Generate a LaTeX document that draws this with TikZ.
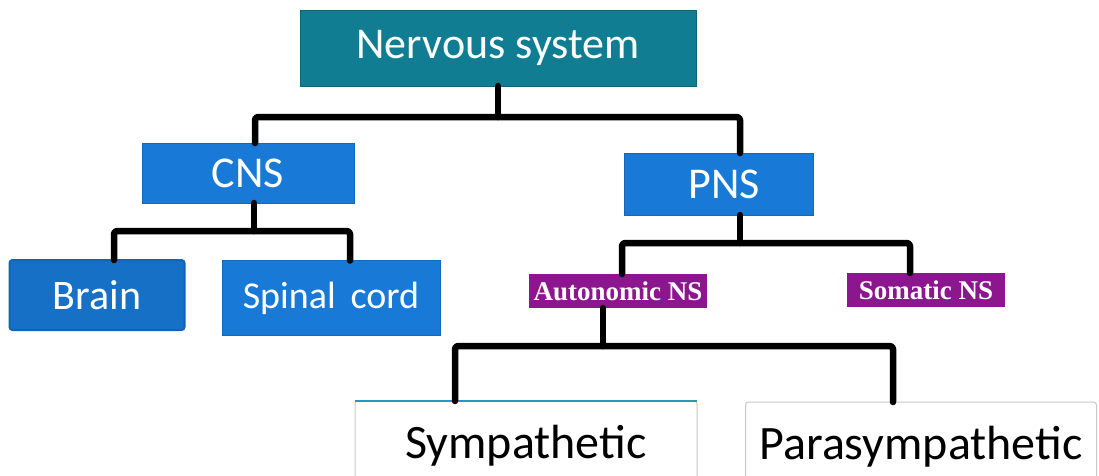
\documentclass[tikz,border=0pt]{standalone}
\usepackage{fontspec}
\setmainfont{Carlito}
\newfontfamily\serifbold{Liberation Serif}
\definecolor{tealc}{RGB}{16,125,146}
\definecolor{bluec}{RGB}{24,122,214}
\definecolor{bluedark}{RGB}{18,100,180}
\definecolor{purp}{RGB}{140,22,142}
\definecolor{lightgray}{RGB}{200,200,200}
\definecolor{tealline}{RGB}{40,150,190}
\begin{document}
\begin{tikzpicture}[x=1pt,y=-1pt,
  basebox/.style={inner sep=0pt, outer sep=0pt},
  tealbox/.style={basebox, fill=tealc, draw=tealc!80!black, line width=0.8pt, text=white, font=\fontsize{44}{48}\selectfont},
  bluebox/.style={basebox, fill=bluec, draw=bluec!85!black, line width=0.8pt, text=white, font=\fontsize{44}{48}\selectfont},
  purpbox/.style={basebox, fill=purp, text=white, font=\serifbold\bfseries\fontsize{27}{29}\selectfont},
  whitebox/.style={basebox, fill=white, draw=lightgray, line width=1pt, rounded corners=3pt, text=black, font=\fontsize{48}{52}\selectfont},
  link/.style={line width=6.5pt, line cap=round, line join=round, rounded corners=3pt, draw=black}]
\useasboundingbox (0,0) rectangle (1099,475);
\fill[white] (0,0) rectangle (1099,475);

% nodes
\node[tealbox, minimum width=396pt, minimum height=76pt] (ns) at (498,48) {Nervous system};
\node[bluebox, minimum width=212pt, minimum height=60pt] (cns) at (248,173) {CNS};
\node[bluebox, minimum width=189pt, minimum height=62pt] (pns) at (719,184) {\hspace*{10pt}PNS};
\node[bluebox, fill=bluec!92!black, draw=bluedark, line width=2pt, rounded corners=3pt, minimum width=175pt, minimum height=70pt, font=\fontsize{42}{46}\selectfont] (brain) at (97,295) {Brain};
\node[bluebox, minimum width=218pt, minimum height=75pt, font=\fontsize{38}{42}\selectfont] (spinal) at (331,298) {Spinal\, cord};
\node[purpbox, minimum width=178pt, minimum height=34pt] (auto) at (618,291) {Autonomic NS};
\node[purpbox, minimum width=158pt, minimum height=34pt] (soma) at (926,290) {Somatic NS};
\node[whitebox, minimum width=342pt, minimum height=82pt, text depth=0pt] (symp) at (526,442) {Sympathetic};
\draw[tealline, line width=2pt] (symp.north west) -- (symp.north east);
\node[whitebox, minimum width=351pt, minimum height=82pt, text depth=0pt] (para) at (921,443) {Parasympathetic};

% connectors
\coordinate (cnsin) at ([xshift=7pt]cns.north);
\coordinate (pnsin) at ([xshift=21pt]pns.north);
\draw[link] (ns.south) -- (ns.south |- 0,117);
\draw[link] (cnsin) -- (cnsin |- 0,117) -- (pnsin |- 0,117) -- (pnsin);

\coordinate (cnsout) at ([xshift=6pt]cns.south);
\coordinate (brainin) at ([xshift=17pt]brain.north);
\coordinate (spinin) at ([xshift=19pt]spinal.north);
\draw[link] (cnsout) -- (cnsout |- 0,231);
\draw[link] (brainin) -- (brainin |- 0,231) -- (spinin |- 0,231) -- (spinin);

\coordinate (pnsout) at ([xshift=21pt]pns.south);
\coordinate (autoin) at ([xshift=4pt]auto.north);
\coordinate (somain) at ([xshift=-16pt]soma.north);
\draw[link] (pnsout) -- (pnsout |- 0,243);
\draw[link] (autoin) -- (autoin |- 0,243) -- (somain |- 0,243) -- (somain);

\coordinate (autoout) at ([xshift=-15pt]auto.south);
\coordinate (sympin) at ([xshift=-71pt]symp.north);
\coordinate (parain) at ([xshift=-28pt]para.north);
\draw[link] (autoout) -- (autoout |- 0,346);
\draw[link] (sympin) -- (sympin |- 0,346) -- (parain |- 0,346) -- (parain);
\end{tikzpicture}
\end{document}
